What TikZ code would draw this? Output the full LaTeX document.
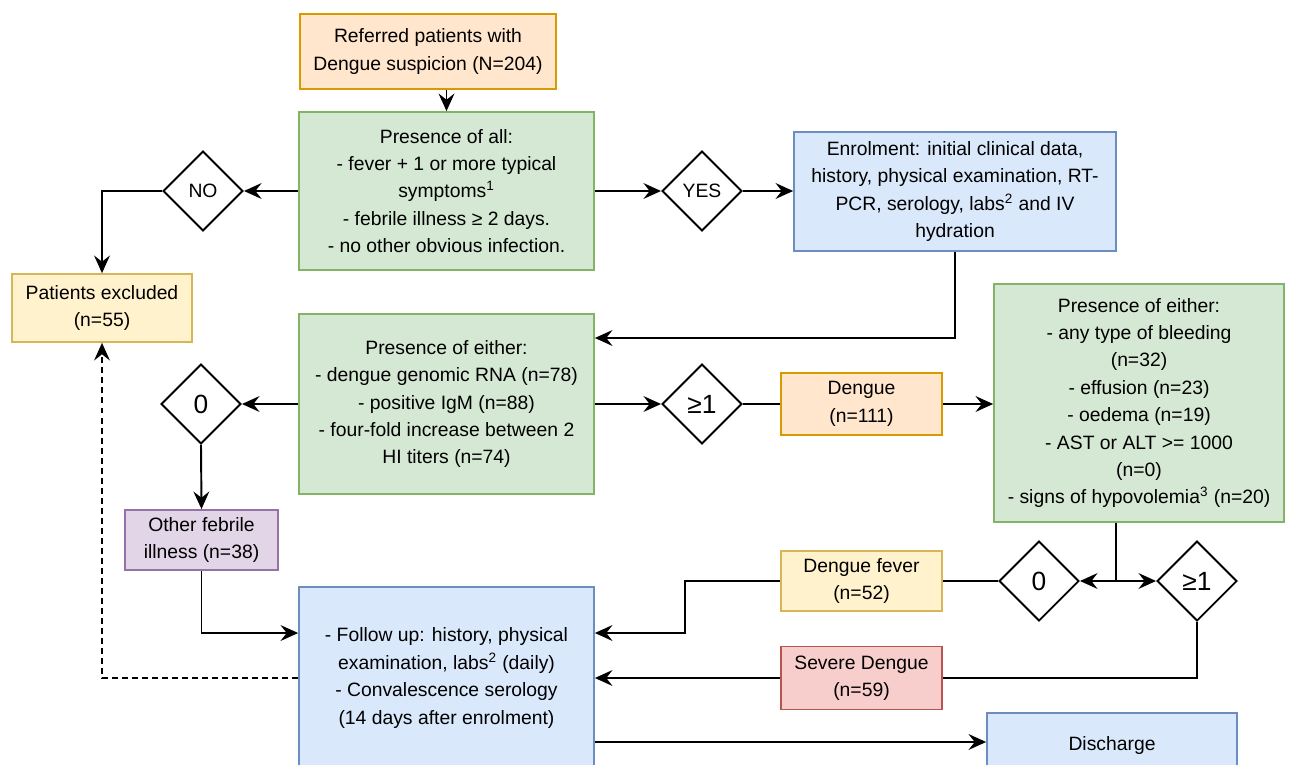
\documentclass[tikz,border=0pt]{standalone}
\usepackage{fontspec}
\setmainfont{Liberation Sans}
\usetikzlibrary{arrows.meta,shapes.geometric}

\definecolor{orangefill}{HTML}{FFE6CC}
\definecolor{orangeline}{HTML}{D79B00}
\definecolor{greenfill}{HTML}{D5E8D4}
\definecolor{greenline}{HTML}{82B366}
\definecolor{yellowfill}{HTML}{FFF2CC}
\definecolor{yellowline}{HTML}{D6B656}
\definecolor{bluefill}{HTML}{DAE8FC}
\definecolor{blueline}{HTML}{6C8EBF}
\definecolor{purplefill}{HTML}{E1D5E7}
\definecolor{purpleline}{HTML}{9673A6}
\definecolor{redfill}{HTML}{F8CECC}
\definecolor{redline}{HTML}{B85450}

\tikzset{
	box/.style={draw, line width=1pt, align=center, inner sep=2pt, font=\fontsize{11}{15.6}\selectfont},
	orangebox/.style={box, fill=orangefill, draw=orangeline},
	greenbox/.style={box, fill=greenfill, draw=greenline},
	yellowbox/.style={box, fill=yellowfill, draw=yellowline},
	bluebox/.style={box, fill=bluefill, draw=blueline},
	purplebox/.style={box, fill=purplefill, draw=purpleline},
	redbox/.style={box, fill=redfill, draw=redline},
	decision/.style={diamond, draw, line width=1.1pt, minimum width=1.6cm, minimum height=1.6cm, inner sep=0pt, font=\fontsize{11}{13}\selectfont},
	bigdecision/.style={decision, font=\fontsize{15}{16}\selectfont},
	link/.style={line width=1.1pt},
	arr/.style={link, -{Stealth[length=10pt,width=9pt,inset=3.5pt]}},
}

\begin{document}
\begin{tikzpicture}[x=0.02cm, y=-0.02cm]
		%%%%% START %%%%%
		\useasboundingbox (0,0) rectangle (1290,764);
		\clip (0,0) rectangle (1290,764);
		
		% screening
		\node[orangebox, minimum width=5.12cm, minimum height=1.5cm] (referred) at (428,51.5) {Referred patients with\\Dengue suspicion (N=204)};
		\node[greenbox, minimum width=5.9cm, minimum height=3.16cm] (all) at (446.5,191) {Presence of all:\\- fever + 1 or more typical\\symptoms\textsuperscript{1}\\- febrile illness ≥ 2 days.\\- no other obvious infection.};
		\node[decision] (no) at (203,191) {NO};
		\node[yellowbox, minimum width=3.6cm, minimum height=1.36cm] (excluded) at (102,308) {Patients excluded\\(n=55)};
		\node[decision] (yes) at (702,191) {YES};
		\node[bluebox, minimum width=6.44cm, minimum height=2.38cm] (enrol) at (955,191.5) {Enrolment: initial clinical data,\\history, physical examination, RT-\\PCR, serology, labs\textsuperscript{2} and IV\\hydration};
		
		% diagnosis
		\node[greenbox, minimum width=5.9cm, minimum height=3.6cm] (either) at (446.5,404) {Presence of either:\\- dengue genomic RNA (n=78)\\- positive IgM (n=88)\\- four-fold increase between 2\\HI titers (n=74)};
		\node[bigdecision] (none) at (201,404) {0};
		\node[bigdecision] (some) at (702,404) {≥1};
		\node[orangebox, minimum width=3.22cm, minimum height=1.24cm] (dengue) at (861.5,404) {Dengue\\(n=111)};
		\node[greenbox, minimum width=5.8cm, minimum height=4.76cm] (warning) at (1139,403) {Presence of either:\\- any type of bleeding\\(n=32)\\- effusion (n=23)\\- oedema (n=19)\\- AST or ALT >= 1000\\(n=0)\\- signs of hypovolemia\textsuperscript{3} (n=20)};
		\node[purplebox, minimum width=3.06cm, minimum height=1.2cm] (otherfev) at (201.5,540) {Other febrile\\illness (n=38)};
		
		% follow up
		\node[bluebox, minimum width=5.9cm, minimum height=3.64cm] (follow) at (446.5,678) {- Follow up: history, physical\\examination, labs\textsuperscript{2} (daily)\\- Convalescence serology\\(14 days after enrolment)};
		\node[yellowbox, minimum width=3.22cm, minimum height=1.2cm] (dfever) at (861.5,581) {Dengue fever\\(n=52)};
		\node[bigdecision] (nosign) at (1039,581) {0};
		\node[bigdecision] (signs) at (1197,581) {≥1};
		\node[redbox, minimum width=3.22cm, minimum height=1.26cm] (severe) at (861.5,678) {Severe Dengue\\(n=59)};
		\node[bluebox, minimum width=5cm, minimum height=1.28cm] (discharge) at (1112,745) {Discharge};
		
		\coordinate (enrolturn) at (955,338);
		\coordinate (split) at (1116,581);
		
		% connectors
		\draw[arr] (referred.south -| all.north) -- (all.north);
		\draw[arr] (no.east -| all.west) -- (no.east);
		\draw[arr] (no.west) -| (excluded.north);
		\draw[arr] (yes.west -| all.east) -- (yes.west);
		\draw[arr] (yes.east) -- (yes.east -| enrol.west);
		\draw[arr] (enrol.south) -- (enrolturn) -- (enrolturn -| either.east);
		\draw[arr] (none.east -| either.west) -- (none.east);
		\draw[arr] (none.south) -- (otherfev.north);
		\draw[arr] (some.west -| either.east) -- (some.west);
		\draw[link] (some.east) -- (dengue.west);
		\draw[arr] (dengue.east) -- (dengue.east -| warning.west);
		\draw[arr] (otherfev.south) |- ([yshift=0.9cm]follow.west);
		\draw[arr, dash pattern=on 3.4pt off 2.3pt] (follow.west) -| (excluded.south);
		\draw[link] (warning.south -| split) -- (split);
		\draw[arr] (split) -- (nosign.east);
		\draw[arr] (split) -- (signs.west);
		\draw[link] (nosign.west) -- (nosign.west -| dfever.east);
		\draw[arr] (nosign.west -| dfever.west) -- ++(-95,0) |- ([yshift=0.9cm]follow.east);
		\draw[link] (signs.south) |- (severe.east);
		\draw[arr] (severe.west) -- (severe.west -| follow.east);
		\draw[arr] ([yshift=-1.28cm]follow.east) -- ([yshift=-1.28cm]follow.east -| discharge.west);
		
		%%%%% END %%%%%
\end{tikzpicture}
\end{document}
